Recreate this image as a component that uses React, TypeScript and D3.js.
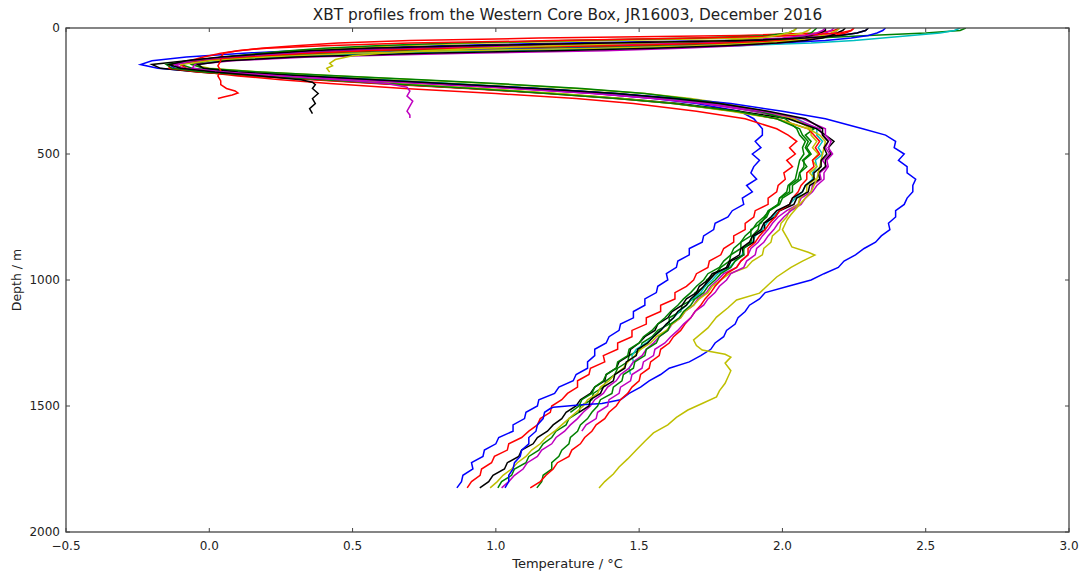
import React from "react";
import * as d3 from "d3";

// ---------- data ----------
const TITLE = "XBT profiles from the Western Core Box, JR16003, December 2016";
const X_LABEL = "Temperature / °C";
const Y_LABEL = "Depth / m";
const X_TICKS = [-0.5, 0.0, 0.5, 1.0, 1.5, 2.0, 2.5, 3.0];
const Y_TICKS = [0, 500, 1000, 1500, 2000];

// shared depth grids (m)
const UPPER_DEPTHS = [0, 10, 20, 30, 40, 50, 60, 70, 80, 90, 100, 115, 130, 145, 160, 175, 190, 205, 220, 240, 260, 280, 300, 330, 360, 400];
// 425 .. 1825 every 25 m
const DEEP_DEPTHS = [425, 450, 475, 500, 525, 550, 575, 600, 625, 650, 675, 700, 725, 750, 775, 800, 825, 850, 875, 900, 925, 950, 975, 1000, 1025, 1050, 1075, 1100, 1125, 1150, 1175, 1200, 1225, 1250, 1275, 1300, 1325, 1350, 1375, 1400, 1425, 1450, 1475, 1500, 1525, 1550, 1575, 1600, 1625, 1650, 1675, 1700, 1725, 1750, 1775, 1800, 1825];

// full-length profiles: temperatures (°C) on the shared grids
const BLUE_COLD_UPPER = [2.30, 2.29, 2.26, 2.20, 2.08, 1.80, 1.25, 0.80, 0.50, 0.30, 0.12, -0.08, -0.20, -0.24, -0.18, -0.02, 0.25, 0.50, 0.75, 1.08, 1.35, 1.55, 1.70, 1.85, 1.90, 1.93];
const BLUE_COLD_DEEP = [1.93, 1.905, 1.925, 1.895, 1.92, 1.90, 1.89, 1.91, 1.875, 1.895, 1.86, 1.865, 1.825, 1.81, 1.765, 1.76, 1.725, 1.72, 1.675, 1.675, 1.635, 1.63, 1.595, 1.60, 1.565, 1.56, 1.52, 1.52, 1.48, 1.48, 1.435, 1.43, 1.395, 1.385, 1.345, 1.345, 1.32, 1.32, 1.28, 1.27, 1.22, 1.205, 1.15, 1.145, 1.105, 1.10, 1.06, 1.06, 1.01, 1.00, 0.96, 0.955, 0.915, 0.92, 0.885, 0.88, 0.864];

const GREEN_A_UPPER = [2.64, 2.62, 2.50, 2.30, 2.12, 1.95, 1.55, 1.00, 0.62, 0.40, 0.25, 0.07, -0.05, -0.10, -0.06, 0.10, 0.36, 0.60, 0.84, 1.16, 1.42, 1.60, 1.75, 1.90, 2.03, 2.11];
const GREEN_A_DEEP = [2.08, 2.10, 2.085, 2.10, 2.075, 2.075, 2.06, 2.055, 2.025, 2.025, 1.99, 1.985, 1.95, 1.94, 1.925, 1.89, 1.89, 1.855, 1.855, 1.82, 1.815, 1.785, 1.765, 1.735, 1.73, 1.695, 1.69, 1.65, 1.645, 1.605, 1.605, 1.565, 1.545, 1.51, 1.505, 1.465, 1.46, 1.425, 1.415, 1.385, 1.375, 1.34, 1.335, 1.295, 1.29, 1.255, 1.245, 1.21, 1.195, 1.165, 1.15, 1.115, 1.105, 1.065, 1.055, 1.02, 1.007];

const RED_A_UPPER = [2.20, 2.18, 2.12, 1.85, 1.15, 0.70, 0.45, 0.30, 0.18, 0.10, 0.04, -0.02, -0.07, -0.10, -0.08, -0.02, 0.10, 0.25, 0.42, 0.68, 1.00, 1.28, 1.48, 1.70, 1.87, 1.98];
const RED_A_DEEP = [2.02, 2.05, 2.025, 2.045, 2.015, 2.035, 2.005, 2.01, 1.985, 1.98, 1.95, 1.95, 1.905, 1.90, 1.87, 1.87, 1.83, 1.83, 1.795, 1.785, 1.745, 1.74, 1.70, 1.69, 1.665, 1.625, 1.625, 1.575, 1.575, 1.525, 1.525, 1.475, 1.475, 1.425, 1.425, 1.375, 1.38, 1.33, 1.325, 1.285, 1.285, 1.25, 1.23, 1.195, 1.19, 1.155, 1.145, 1.115, 1.09, 1.045, 1.04, 0.995, 0.985, 0.95, 0.945, 0.915, 0.90];

const CYAN_UPPER = [2.62, 2.60, 2.55, 2.45, 2.35, 2.25, 2.10, 1.85, 1.50, 1.00, 0.60, 0.25, 0.04, -0.04, -0.02, 0.12, 0.36, 0.60, 0.84, 1.14, 1.40, 1.60, 1.76, 1.92, 2.05, 2.12];
const CYAN_DEEP = [2.12, 2.14, 2.125, 2.14, 2.115, 2.12, 2.105, 2.105, 2.08, 2.07, 2.045, 2.025, 1.99, 1.965, 1.945, 1.93, 1.905, 1.895, 1.865, 1.86, 1.835, 1.815, 1.775, 1.755, 1.73, 1.715, 1.685, 1.665, 1.64, 1.62, 1.595, 1.575, 1.55, 1.525, 1.49, 1.475, 1.48, 1.465, 1.47];

const MAGENTA_A_UPPER = [2.18, 2.17, 2.15, 2.12, 2.06, 1.96, 1.72, 1.20, 0.75, 0.48, 0.32, 0.12, -0.03, -0.12, -0.10, 0.04, 0.26, 0.50, 0.74, 1.06, 1.34, 1.55, 1.72, 1.90, 2.04, 2.13];
const MAGENTA_A_DEEP = [2.14, 2.16, 2.15, 2.165, 2.14, 2.155, 2.13, 2.135, 2.105, 2.10, 2.065, 2.055, 2.015, 1.985, 1.965, 1.95, 1.93, 1.915, 1.89, 1.88, 1.855, 1.84, 1.795, 1.775, 1.75, 1.735, 1.705, 1.69, 1.66, 1.645, 1.615, 1.60, 1.57, 1.55, 1.525, 1.51, 1.48, 1.465, 1.435, 1.42, 1.39, 1.375, 1.345, 1.33, 1.305, 1.285, 1.26, 1.24, 1.21, 1.195, 1.16, 1.145, 1.11, 1.095, 1.065, 1.045, 1.02];

const YELLOW_A_UPPER = [2.10, 2.09, 2.07, 2.02, 1.88, 1.40, 0.95, 0.65, 0.45, 0.30, 0.20, 0.06, -0.03, -0.06, 0.00, 0.18, 0.45, 0.72, 0.98, 1.28, 1.52, 1.68, 1.80, 1.94, 2.04, 2.10];
const YELLOW_A_DEEP = [2.10, 2.12, 2.105, 2.125, 2.105, 2.12, 2.095, 2.115, 2.085, 2.085, 2.06, 2.055, 2.025, 2.015, 1.995, 1.99, 1.965, 1.96, 1.935, 1.93, 1.895, 1.875, 1.815, 1.785, 1.755, 1.74, 1.71, 1.69, 1.66, 1.645, 1.615, 1.595, 1.56, 1.54, 1.505, 1.485, 1.46, 1.445, 1.415, 1.395, 1.365, 1.355, 1.32, 1.305, 1.28, 1.255, 1.23, 1.205, 1.175, 1.155, 1.125, 1.105, 1.075, 1.055, 1.025, 1.005, 0.98];

const BLACK_A_UPPER = [2.15, 2.15, 2.13, 2.10, 2.04, 1.92, 1.40, 0.92, 0.60, 0.40, 0.25, 0.06, -0.08, -0.20, -0.17, -0.04, 0.16, 0.38, 0.60, 0.92, 1.20, 1.44, 1.64, 1.85, 2.02, 2.12];
const BLACK_A_DEEP = [2.15, 2.18, 2.16, 2.17, 2.15, 2.15, 2.125, 2.13, 2.095, 2.09, 2.05, 2.04, 1.99, 1.975, 1.935, 1.94, 1.90, 1.90, 1.86, 1.865, 1.82, 1.81, 1.755, 1.74, 1.71, 1.70, 1.665, 1.65, 1.615, 1.60, 1.565, 1.555, 1.52, 1.50, 1.47, 1.465, 1.43, 1.42, 1.385, 1.38, 1.345, 1.33, 1.295, 1.28, 1.245, 1.23, 1.20, 1.18, 1.145, 1.13, 1.09, 1.08, 1.04, 1.03, 0.99, 0.975, 0.944];

const BLUE_WARM_UPPER = [2.36, 2.35, 2.33, 2.30, 2.24, 2.15, 1.98, 1.65, 1.20, 0.75, 0.45, 0.15, -0.04, -0.14, -0.12, 0.04, 0.30, 0.55, 0.80, 1.14, 1.42, 1.64, 1.82, 2.00, 2.15, 2.28];
const BLUE_WARM_DEEP_DEPTHS = [425, 450, 475, 500, 525, 550, 575, 600, 625, 650, 675, 700, 725, 750, 775, 800, 825, 850, 875, 900, 925, 950, 975, 1000, 1025, 1050, 1075, 1100, 1125, 1150, 1175, 1200, 1225, 1250, 1275, 1300, 1325, 1350, 1375, 1400, 1425, 1450, 1475, 1490, 1495, 1500, 1505, 1510, 1525, 1550, 1575, 1600, 1625, 1650, 1675, 1700, 1725, 1750, 1775, 1800, 1825];
const BLUE_WARM_DEEP = [2.36, 2.395, 2.39, 2.425, 2.405, 2.435, 2.435, 2.465, 2.455, 2.455, 2.435, 2.425, 2.395, 2.395, 2.37, 2.375, 2.345, 2.325, 2.285, 2.255, 2.215, 2.195, 2.145, 2.10, 2.02, 1.94, 1.92, 1.885, 1.87, 1.845, 1.835, 1.805, 1.795, 1.765, 1.75, 1.715, 1.675, 1.605, 1.575, 1.535, 1.505, 1.465, 1.435, 1.37, 1.30, 1.25, 1.20, 1.19, 1.17, 1.165, 1.145, 1.14, 1.115, 1.115, 1.09, 1.085, 1.065, 1.06, 1.045, 1.045, 1.032];

const GREEN_B_UPPER = [2.12, 2.11, 2.10, 2.08, 2.04, 1.98, 1.85, 1.50, 0.95, 0.60, 0.40, 0.16, 0.00, -0.06, -0.02, 0.18, 0.46, 0.74, 1.00, 1.30, 1.52, 1.66, 1.78, 1.92, 2.01, 2.05];
const GREEN_B_DEEP = [2.06, 2.08, 2.07, 2.075, 2.06, 2.055, 2.05, 2.045, 2.02, 2.015, 1.99, 1.985, 1.955, 1.945, 1.92, 1.915, 1.895, 1.89, 1.865, 1.865, 1.835, 1.82, 1.785, 1.765, 1.74, 1.725, 1.695, 1.68, 1.655, 1.64, 1.61, 1.60, 1.57, 1.56, 1.525, 1.52, 1.485, 1.48, 1.445, 1.44, 1.41, 1.405, 1.365, 1.355, 1.335, 1.32, 1.295, 1.285, 1.26, 1.255, 1.23, 1.22, 1.195, 1.195, 1.165, 1.16, 1.143];

const RED_B_UPPER = [2.25, 2.24, 2.22, 2.18, 2.10, 2.00, 1.80, 1.40, 0.85, 0.55, 0.35, 0.12, -0.04, -0.14, -0.14, -0.04, 0.15, 0.36, 0.58, 0.90, 1.18, 1.42, 1.62, 1.83, 1.98, 2.09];
const RED_B_DEEP = [2.11, 2.13, 2.115, 2.13, 2.105, 2.11, 2.085, 2.085, 2.065, 2.055, 2.035, 2.025, 1.99, 1.975, 1.955, 1.94, 1.92, 1.905, 1.88, 1.88, 1.855, 1.84, 1.805, 1.785, 1.765, 1.75, 1.73, 1.715, 1.695, 1.68, 1.66, 1.645, 1.62, 1.605, 1.575, 1.57, 1.54, 1.535, 1.505, 1.50, 1.475, 1.46, 1.435, 1.42, 1.395, 1.38, 1.35, 1.335, 1.31, 1.295, 1.265, 1.255, 1.215, 1.20, 1.175, 1.155, 1.12];

const MAGENTA_B_UPPER = [2.20, 2.19, 2.18, 2.16, 2.12, 2.06, 1.98, 1.85, 1.65, 1.38, 0.90, 0.35, 0.08, -0.05, -0.06, 0.04, 0.26, 0.50, 0.74, 1.06, 1.34, 1.56, 1.74, 1.93, 2.07, 2.15];
const MAGENTA_B_DEEP = [2.15, 2.17, 2.16, 2.175, 2.155, 2.16, 2.145, 2.145, 2.12, 2.105, 2.08, 2.065, 2.03, 2.005, 1.985, 1.97, 1.95, 1.935, 1.91, 1.905, 1.875, 1.865, 1.82, 1.805, 1.78, 1.765, 1.74, 1.725, 1.695, 1.68, 1.655, 1.635, 1.61, 1.59, 1.555, 1.55, 1.515, 1.51, 1.475, 1.47, 1.435, 1.43, 1.395, 1.39, 1.355, 1.35, 1.315, 1.30];

const YELLOW_OUT_UPPER = [2.20, 2.19, 2.17, 2.14, 2.10, 2.04, 1.92, 1.70, 1.35, 0.85, 0.50, 0.20, 0.00, -0.10, -0.10, 0.00, 0.20, 0.42, 0.64, 0.95, 1.22, 1.44, 1.62, 1.82, 1.98, 2.09];
const YELLOW_OUT_DEEP_DEPTHS = [425, 450, 500, 550, 600, 650, 700, 740, 762, 800, 840, 869, 890, 901, 925, 950, 988, 1020, 1052, 1079, 1110, 1147, 1190, 1238, 1260, 1278, 1295, 1306, 1330, 1360, 1385, 1410, 1440, 1464, 1490, 1516, 1545, 1575, 1607, 1640, 1675, 1710, 1742, 1770, 1800, 1825];
const YELLOW_OUT_DEEP = [2.13, 2.15, 2.14, 2.13, 2.12, 2.10, 2.06, 2.03, 2.016, 2.00, 2.02, 2.033, 2.09, 2.113, 2.07, 2.03, 1.98, 1.95, 1.92, 1.84, 1.81, 1.77, 1.74, 1.69, 1.70, 1.72, 1.80, 1.82, 1.80, 1.82, 1.81, 1.80, 1.78, 1.77, 1.72, 1.67, 1.63, 1.60, 1.55, 1.52, 1.49, 1.46, 1.43, 1.41, 1.38, 1.36];

const BLACK_B_UPPER = [2.22, 2.21, 2.19, 2.17, 2.14, 2.08, 1.98, 1.80, 1.55, 1.20, 0.75, 0.30, 0.06, -0.04, -0.02, 0.10, 0.34, 0.58, 0.82, 1.14, 1.42, 1.62, 1.78, 1.95, 2.08, 2.14];
const BLACK_B_DEEP = [2.14, 2.16, 2.145, 2.155, 2.135, 2.135, 2.11, 2.11, 2.08, 2.07, 2.035, 2.025, 1.98, 1.96, 1.935, 1.925, 1.895, 1.885, 1.855, 1.85, 1.815, 1.805, 1.765, 1.745, 1.725, 1.705, 1.68, 1.665, 1.635, 1.62, 1.595, 1.575, 1.55, 1.53, 1.495, 1.49, 1.455, 1.45, 1.415, 1.41, 1.375, 1.365, 1.33, 1.325, 1.29];

const GREEN_C_UPPER = [2.05, 2.04, 2.02, 1.95, 1.70, 1.25, 0.85, 0.58, 0.40, 0.28, 0.18, 0.05, -0.06, -0.15, -0.13, -0.02, 0.18, 0.40, 0.62, 0.92, 1.18, 1.42, 1.62, 1.84, 1.98, 2.06];
const GREEN_C_DEEP = [2.07, 2.09, 2.08, 2.095, 2.07, 2.085, 2.06, 2.065, 2.035, 2.035, 2.00, 1.99, 1.955, 1.935, 1.91, 1.895, 1.87, 1.855, 1.83, 1.82, 1.795, 1.78, 1.74, 1.725, 1.70, 1.68, 1.655, 1.635, 1.61, 1.59, 1.565, 1.545, 1.515, 1.50, 1.465, 1.46, 1.425, 1.42, 1.385, 1.375, 1.345, 1.335, 1.30, 1.29, 1.26];

// short (failed) profiles, own depth lists
const RED_SHORT_DEPTHS = [0, 10, 20, 30, 40, 50, 60, 70, 80, 90, 100, 115, 130, 150, 170, 190, 210, 225, 240, 250, 258, 266, 274, 280];
const RED_SHORT_TEMPS = [2.25, 2.24, 2.20, 2.05, 1.70, 1.20, 0.70, 0.40, 0.20, 0.10, 0.05, 0.04, 0.04, 0.03, 0.04, 0.03, 0.04, 0.04, 0.06, 0.09, 0.10, 0.08, 0.05, 0.03];
const BLACK_SHORT_DEPTHS = [0, 10, 20, 30, 40, 50, 60, 70, 80, 90, 100, 115, 130, 145, 160, 175, 190, 205, 215, 225, 240, 260, 280, 300, 320, 340];
const BLACK_SHORT_TEMPS = [2.30, 2.29, 2.26, 2.20, 2.08, 1.85, 1.40, 0.90, 0.55, 0.35, 0.22, 0.04, -0.08, -0.14, -0.10, 0.02, 0.18, 0.32, 0.36, 0.37, 0.36, 0.38, 0.36, 0.37, 0.35, 0.36];
const MAGENTA_SHORT_DEPTHS = [0, 10, 20, 30, 40, 50, 60, 70, 80, 90, 100, 115, 130, 145, 160, 175, 190, 205, 220, 235, 250, 270, 290, 310, 330, 345, 357];
const MAGENTA_SHORT_TEMPS = [2.15, 2.14, 2.12, 2.08, 2.00, 1.82, 1.45, 0.95, 0.60, 0.40, 0.26, 0.06, -0.06, -0.12, -0.09, 0.05, 0.25, 0.45, 0.62, 0.69, 0.70, 0.69, 0.71, 0.70, 0.69, 0.70, 0.70];
const YELLOW_SHORT_DEPTHS = [0, 10, 20, 30, 40, 50, 60, 70, 80, 90, 100, 110, 125, 140, 150, 160, 175];
const YELLOW_SHORT_TEMPS = [2.05, 2.04, 2.02, 1.98, 1.92, 1.80, 1.50, 1.20, 0.95, 0.75, 0.60, 0.50, 0.44, 0.42, 0.43, 0.41, 0.42];

const COLORS = { b: "#0000ff", g: "#008000", r: "#ff0000", c: "#00bfbf", m: "#bf00bf", y: "#bfbf00", k: "#000000" };

type Pt = { d: number; t: number };
function zipGrid(depths: number[], temps: number[]): Pt[] {
  return temps.map((t, i) => ({ d: depths[i], t }));
}
function full(upper: number[], deep: number[], deepDepths: number[] = DEEP_DEPTHS): Pt[] {
  return [...zipGrid(UPPER_DEPTHS, upper), ...zipGrid(deepDepths, deep)];
}

const PROFILES: { color: string; pts: Pt[] }[] = [
  { color: COLORS.b, pts: full(BLUE_COLD_UPPER, BLUE_COLD_DEEP) },
  { color: COLORS.g, pts: full(GREEN_A_UPPER, GREEN_A_DEEP) },
  { color: COLORS.r, pts: full(RED_A_UPPER, RED_A_DEEP) },
  { color: COLORS.c, pts: full(CYAN_UPPER, CYAN_DEEP) },
  { color: COLORS.m, pts: full(MAGENTA_A_UPPER, MAGENTA_A_DEEP) },
  { color: COLORS.y, pts: full(YELLOW_A_UPPER, YELLOW_A_DEEP) },
  { color: COLORS.k, pts: full(BLACK_A_UPPER, BLACK_A_DEEP) },
  { color: COLORS.b, pts: full(BLUE_WARM_UPPER, BLUE_WARM_DEEP, BLUE_WARM_DEEP_DEPTHS) },
  { color: COLORS.g, pts: full(GREEN_B_UPPER, GREEN_B_DEEP) },
  { color: COLORS.r, pts: full(RED_B_UPPER, RED_B_DEEP) },
  { color: COLORS.m, pts: full(MAGENTA_B_UPPER, MAGENTA_B_DEEP) },
  { color: COLORS.y, pts: full(YELLOW_OUT_UPPER, YELLOW_OUT_DEEP, YELLOW_OUT_DEEP_DEPTHS) },
  { color: COLORS.k, pts: full(BLACK_B_UPPER, BLACK_B_DEEP) },
  { color: COLORS.g, pts: full(GREEN_C_UPPER, GREEN_C_DEEP) },
  { color: COLORS.r, pts: zipGrid(RED_SHORT_DEPTHS, RED_SHORT_TEMPS) },
  { color: COLORS.m, pts: zipGrid(MAGENTA_SHORT_DEPTHS, MAGENTA_SHORT_TEMPS) },
  { color: COLORS.y, pts: zipGrid(YELLOW_SHORT_DEPTHS, YELLOW_SHORT_TEMPS) },
  { color: COLORS.k, pts: zipGrid(BLACK_SHORT_DEPTHS, BLACK_SHORT_TEMPS) },
];

// ---------- layout ----------
const W = 1083;
const H = 577;
const M = { left: 66, top: 28, right: 1069, bottom: 532 };
const FONT = "'DejaVu Sans', sans-serif";

export default function App() {
  const x = d3.scaleLinear().domain([-0.5, 3.0]).range([M.left, M.right]);
  const y = d3.scaleLinear().domain([0, 2000]).range([M.top, M.bottom]);
  const line = d3
    .line<Pt>()
    .x((p) => x(p.t))
    .y((p) => y(p.d));
  const fmtX = (v: number) => d3.format(".1f")(v).replace("-", "\u2212");
  const tickLen = 4;
  const axisColor = "#444";
  const textColor = "#222";

  return (
    <div style={{ position: "fixed", left: 0, top: 0, width: W, height: H, background: "#fff" }}>
      <svg width={W} height={H} style={{ display: "block" }}>
        <rect x={0} y={0} width={W} height={H} fill="#fff" />
        <defs>
          <clipPath id="plotclip">
            <rect x={M.left} y={M.top} width={M.right - M.left} height={M.bottom - M.top} />
          </clipPath>
        </defs>
        <g clipPath="url(#plotclip)">
          {PROFILES.map((p, i) => (
            <path
              key={i}
              d={line(p.pts) || ""}
              fill="none"
              stroke={p.color}
              strokeWidth={1.5}
              strokeLinejoin="miter"
            />
          ))}
        </g>
        <rect
          x={M.left}
          y={M.top}
          width={M.right - M.left}
          height={M.bottom - M.top}
          fill="none"
          stroke={axisColor}
          strokeWidth={1.3}
        />
        {X_TICKS.map((v) => (
          <g key={"x" + v}>
            <line x1={x(v)} x2={x(v)} y1={M.bottom} y2={M.bottom - tickLen} stroke={axisColor} strokeWidth={1} />
            <line x1={x(v)} x2={x(v)} y1={M.top} y2={M.top + tickLen} stroke={axisColor} strokeWidth={1} />
            <text x={x(v)} y={M.bottom + 18} textAnchor="middle" fontFamily={FONT} fontSize={12} fill={textColor}>
              {fmtX(v)}
            </text>
          </g>
        ))}
        {Y_TICKS.map((v) => (
          <g key={"y" + v}>
            <line x1={M.left} x2={M.left + tickLen} y1={y(v)} y2={y(v)} stroke={axisColor} strokeWidth={1} />
            <line x1={M.right} x2={M.right - tickLen} y1={y(v)} y2={y(v)} stroke={axisColor} strokeWidth={1} />
            <text x={M.left - 6} y={y(v) + 4} textAnchor="end" fontFamily={FONT} fontSize={12} fill={textColor}>
              {v}
            </text>
          </g>
        ))}
        <text x={(M.left + M.right) / 2} y={20} textAnchor="middle" fontFamily={FONT} fontSize={15.3} fill={textColor}>
          {TITLE}
        </text>
        <text x={(M.left + M.right) / 2} y={568} textAnchor="middle" fontFamily={FONT} fontSize={13} fill={textColor}>
          {X_LABEL}
        </text>
        <text
          transform={`translate(21, ${(M.top + M.bottom) / 2}) rotate(-90)`}
          textAnchor="middle"
          fontFamily={FONT}
          fontSize={12.5}
          fill={textColor}
        >
          {Y_LABEL}
        </text>
      </svg>
    </div>
  );
}
